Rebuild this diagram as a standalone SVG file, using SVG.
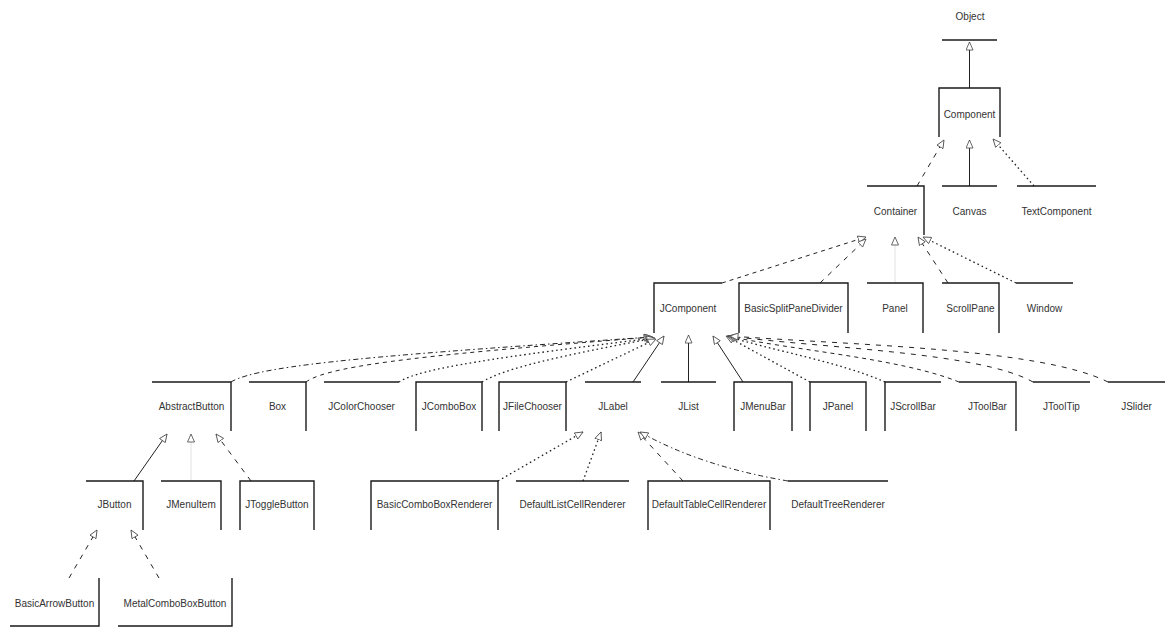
<svg xmlns="http://www.w3.org/2000/svg" width="1171" height="628" viewBox="0 0 1171 628">
<style>
  .bx { fill: none; stroke: #1a1a1a; stroke-width: 1.4; }
  .lb { font-family: "Liberation Sans", Arial, sans-serif; font-size: 10px; fill: #333; text-anchor: middle; }
  .c { fill: none; stroke: #222; stroke-width: 1; marker-end: url(#tri); }
  .solid { }
  .dash { stroke-dasharray: 5 6; }
  .dash2 { stroke-dasharray: 4 4; }
  .dot { stroke-dasharray: 1.6 3; stroke-width: 1.3; }
  .dd { stroke-dasharray: 5 3 1.5 3; }
  .faint { stroke: #e2e2e2; }
</style>
<defs>
  <marker id="tri" viewBox="0 0 9 8" refX="8.5" refY="4" markerWidth="9" markerHeight="8" markerUnits="userSpaceOnUse" orient="auto">
    <path d="M0.5,0.5 L8.5,4 L0.5,7.5 Z" fill="#fff" stroke="#444" stroke-width="0.8" stroke-dasharray="none"/>
  </marker>
</defs>
<rect width="1171" height="628" fill="#fff"/>

<g id="connectors">
  <path class="c solid" d="M969.5,88 L969.5,42"/>
  <path class="c dash" d="M917,186 L944,140"/>
  <path class="c solid" d="M969.5,186 L969.5,140"/>
  <path class="c dot" d="M1034,186 L993,139"/>
  <path class="c dash2" d="M722,283 L866,237"/>
  <path class="c dash" d="M820,283 L866,239"/>
  <path class="c faint" d="M895,283 L895,237"/>
  <path class="c dash" d="M948,283 L918,237"/>
  <path class="c dot" d="M1016,283 L923,237"/>

  <path class="c dd" d="M231,382 C260,364 400,354 652,337"/>
  <path class="c dash2" d="M306,382 C330,364 450,353 653,337"/>
  <path class="c dot" d="M399,382 C420,368 500,357 654,338"/>
  <path class="c dot" d="M482,382 C505,368 560,356 655,338"/>
  <path class="c dot" d="M566,382 L656,339"/>
  <path class="c solid" d="M633,382 L664,336"/>
  <path class="c solid" d="M688.5,382 L688.5,335"/>
  <path class="c solid" d="M743,382 L713,336"/>
  <path class="c dot" d="M810,382 L726,336"/>
  <path class="c dot" d="M885,382 C840,362 770,350 727,336"/>
  <path class="c dash2" d="M959,382 C900,358 790,350 728,336"/>
  <path class="c dash" d="M1033,382 C980,352 820,348 729,336"/>
  <path class="c dash" d="M1108,382 C1040,348 850,345 730,336"/>

  <path class="c solid" d="M134,481 L167,434"/>
  <path class="c faint" d="M191,481 L191,434"/>
  <path class="c dash" d="M251,481 L216,434"/>

  <path class="c dot" d="M498,481 L583,432"/>
  <path class="c dot" d="M583,481 L601,432"/>
  <path class="c dash" d="M683,481 L638,432"/>
  <path class="c dd" d="M788,481 Q700,466 640,432"/>

  <path class="c dash" d="M69,578 L97,530"/>
  <path class="c dash" d="M159,578 L131,530"/>
</g>

<g id="n-object"><path class="bx" d="M942,40 H997"/><text class="lb" x="970" y="20">Object</text></g>
<g id="n-component"><path class="bx" d="M939,137 V88 H1000 V137"/><text class="lb" x="969.5" y="118">Component</text></g>

<g id="n-container"><path class="bx" d="M867,186 H924 V235"/><text class="lb" x="895.5" y="215">Container</text></g>
<g id="n-canvas"><path class="bx" d="M942,186 H997"/><text class="lb" x="969.5" y="215">Canvas</text></g>
<g id="n-textcomponent"><path class="bx" d="M1017,186 H1096"/><text class="lb" x="1056.5" y="215">TextComponent</text></g>

<g id="n-jcomponent"><path class="bx" d="M654,333 V283 H722"/><text class="lb" x="688" y="312">JComponent</text></g>
<g id="n-basicsplitpanedivider"><path class="bx" d="M739,333 V283 H848 V333"/><text class="lb" x="793.5" y="312">BasicSplitPaneDivider</text></g>
<g id="n-panel"><path class="bx" d="M867,283 H923 V333"/><text class="lb" x="895" y="312">Panel</text></g>
<g id="n-scrollpane"><path class="bx" d="M942,283 H999 V333"/><text class="lb" x="970.5" y="312">ScrollPane</text></g>
<g id="n-window"><path class="bx" d="M1016,283 H1073"/><text class="lb" x="1044.5" y="312">Window</text></g>

<g id="n-abstractbutton"><path class="bx" d="M152,382 H231 V431"/><text class="lb" x="191.5" y="410">AbstractButton</text></g>
<g id="n-box"><path class="bx" d="M249,382 H306 V431"/><text class="lb" x="277.5" y="410">Box</text></g>
<g id="n-jcolorchooser"><path class="bx" d="M324,382 H399"/><text class="lb" x="361.5" y="410">JColorChooser</text></g>
<g id="n-jcombobox"><path class="bx" d="M416,431 V382 H482 V431"/><text class="lb" x="449" y="410">JComboBox</text></g>
<g id="n-jfilechooser"><path class="bx" d="M499,431 V382 H566 V431"/><text class="lb" x="532.5" y="410">JFileChooser</text></g>
<g id="n-jlabel"><path class="bx" d="M585,382 H641"/><text class="lb" x="613" y="410">JLabel</text></g>
<g id="n-jlist"><path class="bx" d="M661,382 H716"/><text class="lb" x="688.5" y="410">JList</text></g>
<g id="n-jmenubar"><path class="bx" d="M734,431 V382 H792 V431"/><text class="lb" x="763" y="410">JMenuBar</text></g>
<g id="n-jpanel"><path class="bx" d="M810,431 V382 H866 V431"/><text class="lb" x="838" y="410">JPanel</text></g>
<g id="n-jscrollbar"><path class="bx" d="M885,431 V382 H941"/><text class="lb" x="913" y="410">JScrollBar</text></g>
<g id="n-jtoolbar"><path class="bx" d="M959,382 H1016 V431"/><text class="lb" x="987.5" y="410">JToolBar</text></g>
<g id="n-jtooltip"><path class="bx" d="M1033,382 H1090"/><text class="lb" x="1061.5" y="410">JToolTip</text></g>
<g id="n-jslider"><path class="bx" d="M1108,382 H1165"/><text class="lb" x="1136.5" y="410">JSlider</text></g>

<g id="n-jbutton"><path class="bx" d="M86,481 H143 V530"/><text class="lb" x="114.5" y="508">JButton</text></g>
<g id="n-jmenuitem"><path class="bx" d="M161,481 H221 V530"/><text class="lb" x="191" y="508">JMenuItem</text></g>
<g id="n-jtogglebutton"><path class="bx" d="M240,530 V481 H314 V530"/><text class="lb" x="277" y="508">JToggleButton</text></g>

<g id="n-basiccomboboxrenderer"><path class="bx" d="M371,530 V481 H498 V530"/><text class="lb" x="434.5" y="508">BasicComboBoxRenderer</text></g>
<g id="n-defaultlistcellrenderer"><path class="bx" d="M516,481 H629"/><text class="lb" x="572.5" y="508">DefaultListCellRenderer</text></g>
<g id="n-defaulttablecellrenderer"><path class="bx" d="M648,530 V481 H770 V530"/><text class="lb" x="709" y="508">DefaultTableCellRenderer</text></g>
<g id="n-defaulttreerenderer"><path class="bx" d="M788,481 H888"/><text class="lb" x="838" y="508">DefaultTreeRenderer</text></g>

<g id="n-basicarrowbutton"><path class="bx" d="M99,578 V626 H10"/><text class="lb" x="54.5" y="607">BasicArrowButton</text></g>
<g id="n-metalcomboboxbutton"><path class="bx" d="M232,578 V626 H118"/><text class="lb" x="175" y="607">MetalComboBoxButton</text></g>
</svg>
